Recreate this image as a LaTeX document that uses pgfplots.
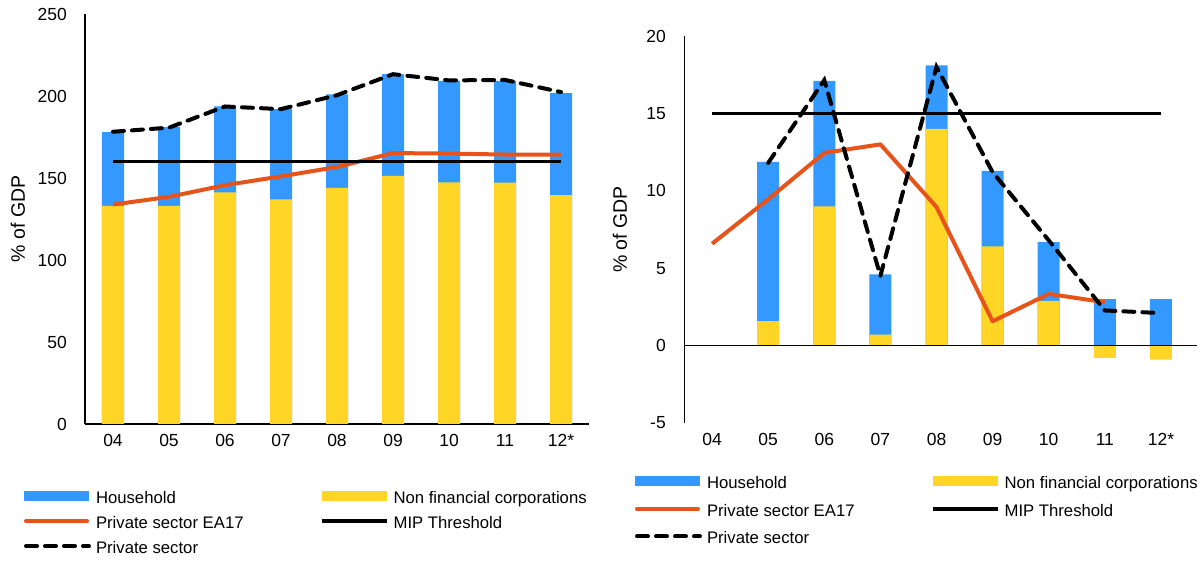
\documentclass[border=0pt]{standalone}
\usepackage{fontspec}
\setmainfont{Liberation Sans}
\usepackage{pgfplots}
\usepackage{pgfplotstable}
\pgfplotsset{compat=1.18}

\definecolor{hhblue}{RGB}{51,153,255}
\definecolor{nfcyellow}{RGB}{255,214,38}
\definecolor{eaorange}{RGB}{232,83,26}

% top = upper edge of the blue bar, nfc = non financial corporations
\pgfplotstableread{
x nfc top ea priv
0 133.0 178.0 133.8 178.2
1 133.0 181.0 138.5 180.7
2 141.3 193.6 145.6 193.6
3 137.0 192.0 151.0 192.0
4 144.0 201.0 156.7 200.5
5 151.3 213.3 165.2 213.3
6 147.4 209.2 164.9 209.5
7 147.2 209.2 164.3 209.8
8 139.5 201.7 164.2 202.4
}\stockdata

\pgfplotstableread{
x nfc top
1 1.58 11.87
2 9.00 17.10
3 0.71 4.60
4 14.00 18.10
5 6.41 11.28
6 2.89 6.69
7 -0.80 3.00
8 -0.90 3.00
}\flowbars

\pgfplotsset{
  debt/.style={
    scale only axis,
    xmin=-0.5, xmax=8.5,
    xtick={0,...,8},
    xticklabels={04,05,06,07,08,09,10,11,12*},
    major tick length=0pt,
    axis line style={-, line width=1.1pt},
    tick label style={font=\fontsize{17.5}{20}\selectfont},
    /pgf/number format/assume math mode=true,
    xticklabel style={inner sep=0pt, yshift=-10pt},
    yticklabel style={inner sep=0pt, xshift=-18pt},
    ylabel={\% of GDP},
    ylabel style={font=\fontsize{19.5}{22}\selectfont},
    legend columns=2,
    legend cell align=left,
    legend style={draw=none, fill=none, inner sep=0pt, outer sep=0pt,
      anchor=north west,
      font=\fontsize{16.7}{19}\selectfont,
      /tikz/every odd column/.append style={column sep=3pt},
      /tikz/every even column/.append style={column sep=74pt}},
  },
  hhbar/.style={fill=hhblue, draw=none, bar width=22pt, bar shift=0pt,
    legend image code/.code={\fill[hhblue] (0pt,-3pt) rectangle (65pt,7pt);}},
  nfcbar/.style={fill=nfcyellow, draw=none, bar width=22pt, bar shift=0pt,
    legend image code/.code={\fill[nfcyellow] (0pt,-3pt) rectangle (65pt,7pt);}},
  ealine/.style={sharp plot, no marks, eaorange, line width=4pt, line join=round,
    legend image code/.code={\draw[eaorange, line width=4pt, line cap=round] (2pt,2pt) -- (63pt,2pt);}},
  mipline/.style={sharp plot, no marks, black, line width=3pt,
    legend image code/.code={\draw[black, line width=4pt] (0pt,2pt) -- (65pt,2pt);}},
  privline/.style={sharp plot, no marks, black, line width=4pt, line cap=round,
    dash pattern=on 11pt off 8pt,
    legend image code/.code={\draw[black, line width=4pt, line cap=round, dash pattern=on 11pt off 8pt] (2pt,2pt) -- (65pt,2pt);}},
}

\begin{document}
\begin{tikzpicture}
\useasboundingbox (0pt,0pt) rectangle (1201pt,561pt);

% stock of private sector debt
\begin{axis}[debt,
  at={(85pt,137pt)}, anchor=south west,
  width=504pt, height=410pt,
  ymin=0, ymax=250, ytick={0,50,...,250},
  axis x line*=bottom, axis y line*=left,
  ybar,
  ylabel style={at={(axis description cs:-0.133,0.5)}, anchor=center},
  legend style={at={(axis description cs:-0.121,-0.159)}, row sep=7.5pt},
]
\addplot[hhbar] table[x=x, y=top] {\stockdata};
\addlegendentry{Household}
\addplot[nfcbar] table[x=x, y=nfc] {\stockdata};
\addlegendentry{Non financial corporations}
\addplot[ealine] table[x=x, y=ea] {\stockdata};
\addlegendentry{Private sector EA17}
\addplot[mipline] coordinates {(0,160) (8,160)};
\addlegendentry{MIP Threshold}
\addplot[privline] table[x=x, y=priv] {\stockdata};
\addlegendentry{Private sector}
\end{axis}

% private sector credit flow
\begin{axis}[debt,
  at={(684pt,138pt)}, anchor=south west,
  width=505pt, height=387pt,
  ymin=-5, ymax=20, ytick={-5,0,...,20},
  yticklabels={-5,0,5,10,15,20},
  axis x line*=bottom, axis y line*=left,
  x axis line style={draw=none},
  axis line style={-, line width=0.9pt},
  ybar,
  clip=false,
  ylabel style={at={(axis description cs:-0.127,0.5)}, anchor=center},
  legend style={at={(axis description cs:-0.097,-0.133)}, row sep=10pt},
]
\addplot[hhbar] table[x=x, y=top] {\flowbars};
\addlegendentry{Household}
\addplot[nfcbar] table[x=x, y=nfc] {\flowbars};
\addlegendentry{Non financial corporations}
\addplot[ealine] coordinates {(0,6.58) (1,9.45) (2,12.45) (3,13.0) (4,8.95) (5,1.57) (6,3.34) (7,2.8)};
\addlegendentry{Private sector EA17}
\addplot[mipline] coordinates {(0,15) (8,15)};
\addlegendentry{MIP Threshold}
\addplot[privline] coordinates {(1,11.8) (2,17.15) (3,4.5) (4,18.0) (5,11.2) (6,6.8) (7,2.27) (8,2.1)};
\addlegendentry{Private sector}
\draw[black, line width=1.1pt] (axis cs:-0.5,0) -- (axis cs:8.65,0);
\end{axis}
\end{tikzpicture}
\end{document}
